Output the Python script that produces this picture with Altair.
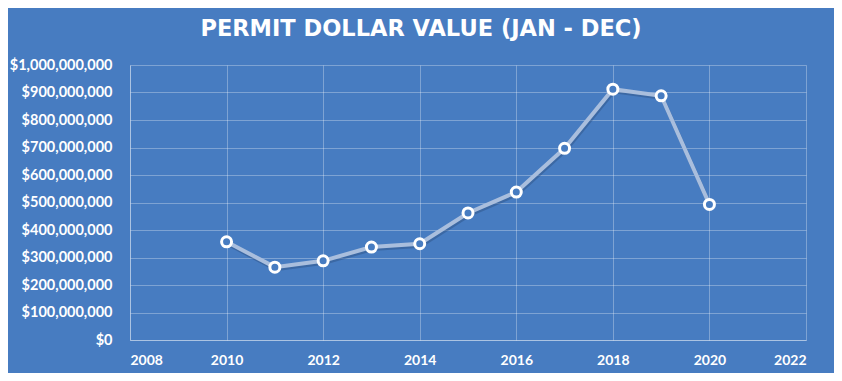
import altair as alt
import pandas as pd

years = [2010, 2011, 2012, 2013, 2014, 2015, 2016, 2017, 2018, 2019, 2020]
values = [357e6, 265e6, 288e6, 338e6, 350e6, 462e6, 538e6, 697e6, 912e6, 888e6, 493e6]
x_ticks = [2008, 2010, 2012, 2014, 2016, 2018, 2020, 2022]
y_ticks = [0, 1e8, 2e8, 3e8, 4e8, 5e8, 6e8, 7e8, 8e8, 9e8, 1e9]

BG = "#477CC1"
FONT = "Lato"

df = pd.DataFrame({"year": years, "value": values})

x = alt.X("year:Q", scale=alt.Scale(domain=[2008, 2022], nice=False),
          axis=alt.Axis(values=x_ticks, format="d", title=None, grid=True,
                        gridColor="white", gridOpacity=0.3, domainColor="white",
                        domainOpacity=0.35, ticks=False, labelColor="white",
                        labelFont=FONT, labelFontSize=14, labelFontWeight="bold",
                        labelPadding=13))
y = alt.Y("value:Q", scale=alt.Scale(domain=[0, 1e9], nice=False),
          axis=alt.Axis(values=y_ticks, format="$,.0f", title=None, grid=True,
                        gridColor="white", gridOpacity=0.3, domainColor="white",
                        domainOpacity=0.35, ticks=False, labelColor="white",
                        labelFont=FONT, labelFontSize=14.5, labelFontWeight="bold",
                        labelPadding=18))

base = alt.Chart(df)
shadow = base.mark_line(color="#2c4f80", strokeWidth=4, opacity=0.45,
                        xOffset=1, yOffset=2).encode(x=x, y=y)
line = base.mark_line(color="#A9BEDD", strokeWidth=4).encode(x=x, y=y)
pts = base.mark_point(shape="circle", filled=True, fill=BG, stroke="white",
                      strokeWidth=3, size=100, opacity=1).encode(x=x, y=y)

chart = alt.layer(shadow, line, pts).properties(
    width=676, height=275,
    background=BG,
    padding={"left": 122, "right": 28, "top": 57, "bottom": 33},
    autosize=alt.AutoSizeParams(type="none"),
    title=alt.TitleParams("PERMIT DOLLAR VALUE (JAN - DEC)", color="white",
                          font="DejaVu Sans", fontSize=22.5, fontWeight="bold",
                          anchor="middle", dx=-47, offset=17),
).configure_view(stroke=None)

chart.save("out.html", embed_options={"renderer": "svg", "actions": False})
